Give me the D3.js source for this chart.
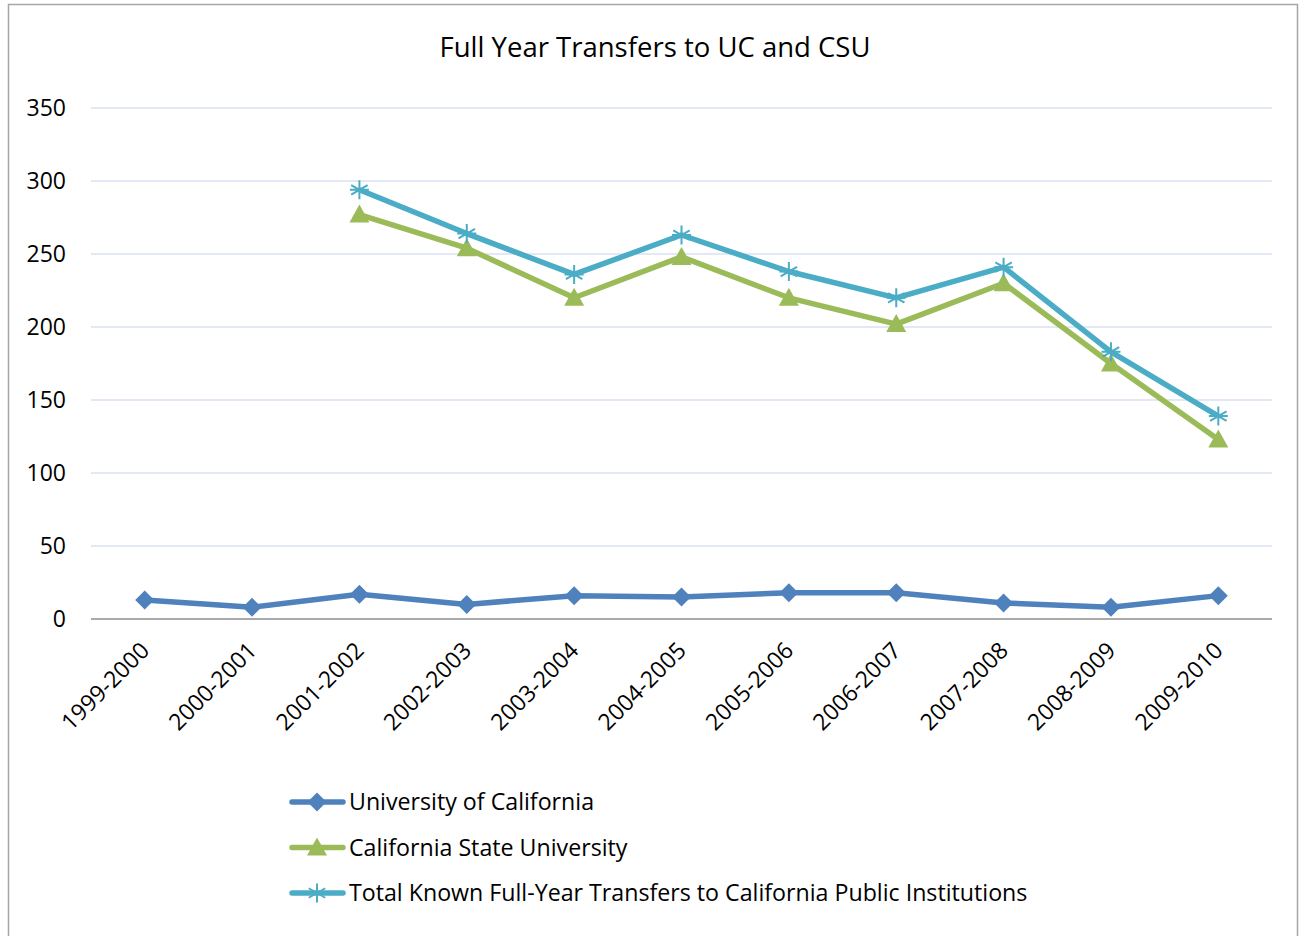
<!DOCTYPE html>
<html>
<head>
<meta charset="utf-8">
<script src="https://cdn.jsdelivr.net/npm/d3@7"></script>
<style>
  body { margin: 0; background: #fff; }
  text { font-family: "Open Sans", Lato, sans-serif; fill: #000; }
</style>
</head>
<body>
<div id="graphic"></div>
<script>
var years = ["1999-2000", "2000-2001", "2001-2002", "2002-2003", "2003-2004", "2004-2005",
             "2005-2006", "2006-2007", "2007-2008", "2008-2009", "2009-2010"];
var ucValues = [13, 8, 17, 10, 16, 15, 18, 18, 11, 8, 16];
var csuValues = [null, null, 277, 254, 220, 248, 220, 202, 230, 175, 123];
var totalValues = [null, null, 294, 264, 236, 263, 238, 220, 241, 183, 139];
var yTicks = [0, 50, 100, 150, 200, 250, 300, 350];

var series = [
  { name: "University of California", values: ucValues, color: "#4F81BD", marker: "diamond" },
  { name: "California State University", values: csuValues, color: "#9BBB59", marker: "triangle" },
  { name: "Total Known Full-Year Transfers to California Public Institutions", values: totalValues, color: "#4BACC6", marker: "star" }
];

var W = 1302, H = 936;
var plot = { left: 91, right: 1272, top: 108, bottom: 619 };

var svg = d3.select("#graphic").append("svg")
  .attr("width", W)
  .attr("height", H);

// outer frame
svg.append("rect")
  .attr("x", 8.5).attr("y", 4.5)
  .attr("width", 1289).attr("height", 940)
  .attr("fill", "none").attr("stroke", "#a6a6a6").attr("stroke-width", 1.5);

svg.append("text")
  .attr("x", 655).attr("y", 57)
  .attr("text-anchor", "middle")
  .attr("font-size", 27.5)
  .text("Full Year Transfers to UC and CSU");

var x = d3.scaleBand().domain(years).range([plot.left, plot.right]);
var y = d3.scaleLinear().domain([0, 350]).range([plot.bottom, plot.top]);
var cx = function (d) { return x(d) + x.bandwidth() / 2; };

// gridlines
svg.append("g").selectAll("line")
  .data(yTicks.filter(function (d) { return d > 0; }))
  .enter().append("line")
  .attr("x1", plot.left).attr("x2", plot.right)
  .attr("y1", function (d) { return y(d); }).attr("y2", function (d) { return y(d); })
  .attr("stroke", "#d9e1f2").attr("stroke-width", 1.5);

// y labels
svg.append("g").selectAll("text")
  .data(yTicks)
  .enter().append("text")
  .attr("x", 66)
  .attr("y", function (d) { return y(d) + 8; })
  .attr("text-anchor", "end")
  .attr("font-size", 23)
  .text(function (d) { return d; });

// x axis line
svg.append("line")
  .attr("x1", plot.left).attr("x2", plot.right)
  .attr("y1", y(0)).attr("y2", y(0))
  .attr("stroke", "#8c8c8c").attr("stroke-width", 1.5);

// x labels rotated
svg.append("g").selectAll("text")
  .data(years)
  .enter().append("text")
  .attr("transform", function (d) {
    return "translate(" + (cx(d) + 6) + "," + (y(0) + 33) + ") rotate(-45)";
  })
  .attr("text-anchor", "end")
  .attr("font-size", 23)
  .text(function (d) { return d; });

function drawMarker(g, type, px, py, color) {
  if (type === "diamond") {
    g.append("path")
      .attr("d", "M" + px + "," + (py - 9.5) + "L" + (px + 9.5) + "," + py + "L" + px + "," + (py + 9.5) + "L" + (px - 9.5) + "," + py + "Z")
      .attr("fill", color);
  } else if (type === "triangle") {
    g.append("path")
      .attr("d", "M" + px + "," + (py - 10) + "L" + (px + 10) + "," + (py + 8) + "L" + (px - 10) + "," + (py + 8) + "Z")
      .attr("fill", color);
  } else {
    var r = 9.5;
    var p = "";
    [0, 60, 120].forEach(function (a) {
      var rad = a * Math.PI / 180;
      p += "M" + (px - r * Math.sin(rad)) + "," + (py - r * Math.cos(rad)) +
           "L" + (px + r * Math.sin(rad)) + "," + (py + r * Math.cos(rad));
    });
    p += "M" + (px - r) + "," + py + "L" + (px + r) + "," + py;
    g.append("path").attr("d", p).attr("stroke", color).attr("stroke-width", 2).attr("fill", "none");
  }
}

var line = d3.line()
  .defined(function (d) { return d.v != null; })
  .x(function (d) { return cx(d.year); })
  .y(function (d) { return y(d.v); });

series.forEach(function (s) {
  var pts = years.map(function (yr, i) { return { year: yr, v: s.values[i] }; });
  var g = svg.append("g");
  g.append("path")
    .datum(pts)
    .attr("d", line)
    .attr("fill", "none")
    .attr("stroke", s.color)
    .attr("stroke-width", 5.5)
    .attr("stroke-linejoin", "round");
  pts.filter(function (d) { return d.v != null; }).forEach(function (d) {
    drawMarker(g, s.marker, cx(d.year), y(d.v), s.color);
  });
});

// legend
var legend = svg.append("g");
series.forEach(function (s, i) {
  var ly = 802 + i * 45.5;
  legend.append("line")
    .attr("x1", 292).attr("x2", 343)
    .attr("y1", ly).attr("y2", ly)
    .attr("stroke", s.color).attr("stroke-width", 5.5).attr("stroke-linecap", "round");
  drawMarker(legend, s.marker, 317, ly, s.color);
  legend.append("text")
    .attr("x", 349).attr("y", ly + 8)
    .attr("font-size", 23.2)
    .text(s.name);
});
</script>
</body>
</html>
